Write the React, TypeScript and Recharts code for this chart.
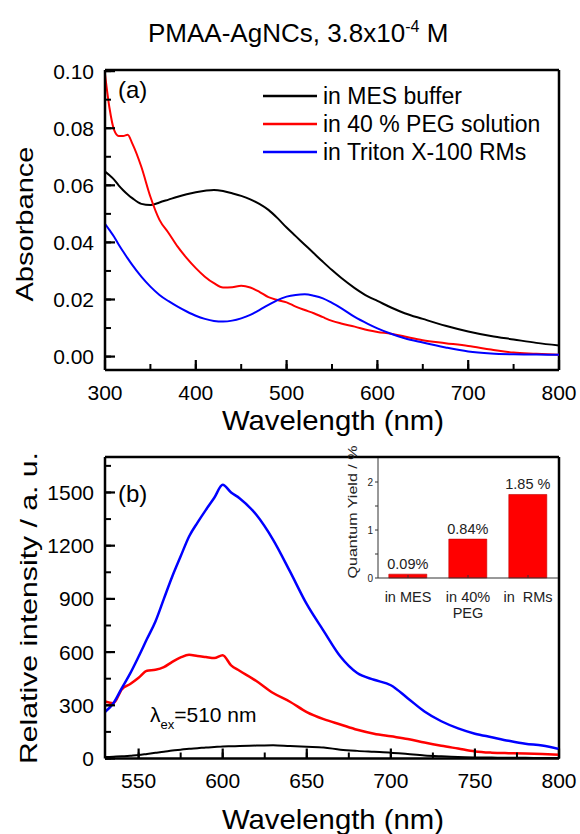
import React from 'react';
import {
  LineChart,
  Line,
  XAxis,
  YAxis,
  ReferenceLine,
  Legend,
  BarChart,
  Bar,
  LabelList,
} from 'recharts';

const FONT = '"Liberation Sans", Arial, Helvetica, sans-serif';

// ---------- Panel (a): absorbance ----------
const absWavelengths = [300, 305, 310, 315, 320, 325, 330, 340, 350, 360, 370, 380, 390, 400, 410, 420, 430, 440, 450, 460, 470, 480, 490, 500, 510, 520, 530, 540, 550, 560, 575, 590, 600, 615, 630, 650, 675, 700, 725, 750, 775, 800];
const absMES = [0.0648, 0.0635, 0.062, 0.060, 0.0583, 0.0568, 0.0555, 0.0535, 0.0531, 0.054, 0.055, 0.056, 0.0569, 0.0576, 0.0581, 0.0584, 0.058, 0.0572, 0.0563, 0.0551, 0.0535, 0.0514, 0.0485, 0.0452, 0.0422, 0.0392, 0.0362, 0.0332, 0.0303, 0.0276, 0.024, 0.021, 0.0195, 0.0172, 0.0152, 0.0132, 0.0108, 0.0088, 0.0072, 0.006, 0.0048, 0.0039];
const absPEG = [0.099, 0.087, 0.0794, 0.0773, 0.0773, 0.0777, 0.0747, 0.0665, 0.056, 0.0479, 0.0433, 0.0385, 0.0345, 0.031, 0.028, 0.0257, 0.0242, 0.0243, 0.0248, 0.0242, 0.0227, 0.0208, 0.0198, 0.019, 0.0175, 0.0163, 0.0152, 0.0138, 0.0125, 0.0116, 0.0105, 0.0092, 0.0086, 0.008, 0.007, 0.0057, 0.0047, 0.0037, 0.0025, 0.0014, 0.001, 0.0006];
const absRMs = [0.0465, 0.0443, 0.042, 0.0393, 0.0368, 0.0344, 0.0321, 0.028, 0.0245, 0.0216, 0.0194, 0.0175, 0.0158, 0.0143, 0.0132, 0.0125, 0.0123, 0.0126, 0.0134, 0.0146, 0.0163, 0.0181, 0.0198, 0.021, 0.0216, 0.0218, 0.0213, 0.0204, 0.0188, 0.017, 0.0139, 0.0114, 0.0099, 0.008, 0.0064, 0.0049, 0.0032, 0.0018, 0.0011, 0.0008, 0.0007, 0.0006];
const absXTicks = [300, 350, 400, 450, 500, 550, 600, 650, 700, 750, 800];
const absXMajor = [300, 400, 500, 600, 700, 800];
const absYTicks = [0, 0.01, 0.02, 0.03, 0.04, 0.05, 0.06, 0.07, 0.08, 0.09, 0.1];
const absYMajor = [0, 0.02, 0.04, 0.06, 0.08, 0.1];
const absXDomain = [300, 800];
const absYDomain = [-0.0047, 0.1004];

// ---------- Panel (b): emission ----------
const flWavelengths = [530, 535, 540, 545, 550, 555, 560, 565, 570, 575, 580, 585, 590, 595, 600, 605, 610, 620, 630, 640, 650, 660, 670, 680, 690, 700, 710, 720, 730, 740, 750, 760, 770, 780, 790, 800];
const flMES = [8, 10, 12, 16, 20, 26, 32, 38, 45, 50, 55, 58, 62, 65, 68, 69, 70, 73, 75, 70, 66, 62, 50, 43, 38, 33, 25, 17, 12, 8, 6, 5, 4, 4, 3, 3];
const flPEG = [321, 312, 390, 420, 455, 495, 500, 515, 545, 570, 585, 578, 572, 566, 582, 525, 495, 437, 369, 320, 262, 222, 192, 162, 140, 125, 110, 90, 72, 56, 40, 33, 30, 28, 25, 21];
const flRMs = [262, 312, 397, 480, 575, 675, 773, 900, 1026, 1140, 1252, 1330, 1402, 1470, 1543, 1500, 1468, 1374, 1233, 1055, 870, 720, 575, 482, 444, 413, 340, 265, 210, 170, 140, 120, 100, 83, 73, 53];
const flXTicks = [550, 575, 600, 625, 650, 675, 700, 725, 750, 775, 800];
const flXMajor = [550, 600, 650, 700, 750, 800];
const flYTicks = [0, 150, 300, 450, 600, 750, 900, 1050, 1200, 1350, 1500, 1650];
const flYMajor = [0, 300, 600, 900, 1200, 1500];
const flXDomain = [530, 800];
const flYDomain = [0, 1700];

// ---------- Inset: quantum yield ----------
const qyCategories = ['in MES', 'in 40%|PEG', 'in  RMs'];
const qyValues = [0.08, 0.81, 1.74];
const qyLabels = ['0.09%', '0.84%', '1.85 %'];
const qyYTicks = [0, 0.5, 1, 1.5, 2];
const qyYDomain = [0, 2.5];

const seriesNames = ['in MES buffer', 'in 40 % PEG solution', 'in Triton X-100 RMs'];
const seriesColors = ['#000000', '#ff0000', '#0000ff'];

const absData = absWavelengths.map((wl, i) => ({ wl, mes: absMES[i], peg: absPEG[i], rms: absRMs[i] }));
const flData = flWavelengths.map((wl, i) => ({ wl, mes: flMES[i], peg: flPEG[i], rms: flRMs[i] }));
const qyData = qyCategories.map((cat, i) => ({ cat, qy: qyValues[i], label: qyLabels[i] }));

// built-in tick lines are MINOR (inward, 6 px); majors get an extra longer line here
const MINOR = 6;
const MAJOR = 10;

const makeXTick = (majors: number[], fmt: (v: number) => string, labelDy: number) => (props: any) => {
  const { x, y, payload } = props;
  const axisY = y + MINOR;
  const v = payload.value;
  const major = majors.includes(v);
  return (
    <g>
      {major && <line x1={x} y1={axisY} x2={x} y2={axisY - MAJOR} stroke="#000" strokeWidth={2.2} />}
      {major && (
        <text x={x} y={axisY + labelDy} textAnchor="middle" fontSize={21} fontFamily={FONT} fill="#000">
          {fmt(v)}
        </text>
      )}
    </g>
  );
};

const makeYTick = (majors: number[], fmt: (v: number) => string) => (props: any) => {
  const { x, y, payload } = props;
  const axisX = x - MINOR;
  const v = payload.value;
  const major = majors.includes(v);
  return (
    <g>
      {major && <line x1={axisX} y1={y} x2={axisX + MAJOR} y2={y} stroke="#000" strokeWidth={2.2} />}
      {major && (
        <text x={axisX - 11} y={y + 7.5} textAnchor="end" fontSize={21} fontFamily={FONT} fill="#000">
          {fmt(v)}
        </text>
      )}
    </g>
  );
};

const LegendContent = () => (
  <div style={{ fontFamily: FONT }}>
    {seriesNames.map((name, i) => (
      <div key={name} style={{ display: 'flex', alignItems: 'center', height: 28 }}>
        <svg width={54} height={4} style={{ display: 'block' }}>
          <line x1={0} y1={2} x2={54} y2={2} stroke={seriesColors[i]} strokeWidth={2.5} />
        </svg>
        <span style={{ marginLeft: 6, fontSize: 23, lineHeight: '28px', color: '#000', whiteSpace: 'nowrap' }}>{name}</span>
      </div>
    ))}
  </div>
);

const InsetXTick = (props: any) => {
  const { x, y, payload } = props;
  const lines = String(payload.value).split('|');
  return (
    <g>
      <line x1={x} y1={y} x2={x} y2={y - 3} stroke="#333" strokeWidth={1} />
      {lines.map((t, i) => (
        <text
          key={i}
          x={x}
          y={y + 24 + i * 16}
          textAnchor="middle"
          fontSize={14.5}
          fontFamily={FONT}
          fill="#222"
          style={{ whiteSpace: 'pre' }}
        >
          {t}
        </text>
      ))}
    </g>
  );
};

const BarValueLabel = (props: any) => {
  const { x, y, width, value } = props;
  return (
    <text x={x + width / 2} y={y - 5} textAnchor="middle" fontSize={14.5} fontFamily={FONT} fill="#222" style={{ whiteSpace: 'pre' }}>
      {value}
    </text>
  );
};

const axisLine = { stroke: '#000', strokeWidth: 2.5 };
const tickLineStyle = { stroke: '#000', strokeWidth: 2 };

export default function App() {
  return (
    <div style={{ position: 'absolute', left: 0, top: 0, width: 580, height: 834, background: '#fff', fontFamily: FONT, overflow: 'hidden' }}>
      {/* Panel (a) */}
      <div style={{ position: 'absolute', left: 0, top: 0 }}>
        <LineChart width={580} height={440} data={absData} margin={{ top: 70, right: 21, bottom: 40, left: 45 }}>
          <XAxis
            dataKey="wl"
            type="number"
            domain={absXDomain}
            allowDataOverflow
            ticks={absXTicks}
            interval={0}
            height={30}
            tickSize={-MINOR}
            tickMargin={0}
            tickLine={tickLineStyle}
            axisLine={axisLine}
            tick={makeXTick(absXMajor, (v) => String(v), 29.5)}
          />
          <YAxis
            type="number"
            domain={absYDomain}
            allowDataOverflow
            ticks={absYTicks}
            interval={0}
            width={60}
            tickSize={-MINOR}
            tickMargin={0}
            tickLine={tickLineStyle}
            axisLine={axisLine}
            tick={makeYTick(absYMajor, (v) => v.toFixed(2))}
          />
          <ReferenceLine y={absYDomain[1]} stroke="#000" strokeWidth={2.5} />
          <ReferenceLine x={absXDomain[1]} stroke="#000" strokeWidth={2.5} />
          <Line dataKey="mes" name={seriesNames[0]} stroke={seriesColors[0]} strokeWidth={2} dot={false} type="monotone" isAnimationActive={false} />
          <Line dataKey="peg" name={seriesNames[1]} stroke={seriesColors[1]} strokeWidth={2} dot={false} type="monotone" isAnimationActive={false} />
          <Line dataKey="rms" name={seriesNames[2]} stroke={seriesColors[2]} strokeWidth={2} dot={false} type="monotone" isAnimationActive={false} />
          <Legend
            layout="vertical"
            align="center"
            verticalAlign="middle"
            wrapperStyle={{ position: 'absolute', left: 263, top: 82, width: 'auto', height: 'auto' }}
            content={LegendContent}
          />
        </LineChart>
      </div>

      {/* Panel (b) */}
      <div style={{ position: 'absolute', left: 0, top: 440 }}>
        <LineChart width={580} height={394} data={flData} margin={{ top: 17, right: 21, bottom: 45.5, left: 45 }}>
          <XAxis
            dataKey="wl"
            type="number"
            domain={flXDomain}
            allowDataOverflow
            ticks={flXTicks}
            interval={0}
            height={30}
            tickSize={-MINOR}
            tickMargin={0}
            tickLine={tickLineStyle}
            axisLine={axisLine}
            tick={makeXTick(flXMajor, (v) => String(v), 29)}
          />
          <YAxis
            type="number"
            domain={flYDomain}
            allowDataOverflow
            ticks={flYTicks}
            interval={0}
            width={60}
            tickSize={-MINOR}
            tickMargin={0}
            tickLine={tickLineStyle}
            axisLine={axisLine}
            tick={makeYTick(flYMajor, (v) => String(v))}
          />
          <ReferenceLine y={flYDomain[1]} stroke="#000" strokeWidth={2.5} />
          <ReferenceLine x={flXDomain[1]} stroke="#000" strokeWidth={2.5} />
          <Line dataKey="mes" name={seriesNames[0]} stroke={seriesColors[0]} strokeWidth={2} dot={false} type="monotone" isAnimationActive={false} />
          <Line dataKey="peg" name={seriesNames[1]} stroke={seriesColors[1]} strokeWidth={2.5} dot={false} type="monotone" isAnimationActive={false} />
          <Line dataKey="rms" name={seriesNames[2]} stroke={seriesColors[2]} strokeWidth={2.5} dot={false} type="monotone" isAnimationActive={false} />
        </LineChart>
      </div>

      {/* Inset */}
      <div style={{ position: 'absolute', left: 340, top: 450 }}>
        <BarChart width={220} height={180} data={qyData} margin={{ top: 8, right: 2, bottom: 12, left: 18 }} barCategoryGap="18%">
          <XAxis
            dataKey="cat"
            type="category"
            height={40}
            interval={0}
            tickSize={0}
            tickMargin={0}
            tickLine={false}
            axisLine={{ stroke: '#333', strokeWidth: 1 }}
            tick={InsetXTick}
          />
          <YAxis
            type="number"
            domain={qyYDomain}
            ticks={qyYTicks}
            interval={0}
            width={20}
            tickSize={3}
            tickMargin={2}
            axisLine={{ stroke: '#333', strokeWidth: 1 }}
            tickLine={{ stroke: '#333', strokeWidth: 1 }}
            tick={{ fontSize: 10, fill: '#222', fontFamily: FONT }}
            tickFormatter={(v: number) => (Number.isInteger(v) ? String(v) : '')}
          />
          <Bar dataKey="qy" fill="#ff0000" stroke="#c00000" strokeWidth={0.6} isAnimationActive={false}>
            <LabelList dataKey="label" content={BarValueLabel} />
          </Bar>
        </BarChart>
      </div>

      {/* Text annotations */}
      <svg width={580} height={834} style={{ position: 'absolute', left: 0, top: 0, pointerEvents: 'none' }} fontFamily={FONT}>
        <text x={148} y={42} fontSize={26} fill="#000">
          PMAA-AgNCs, 3.8x10
          <tspan fontSize={16} dy={-10}>-4</tspan>
          <tspan fontSize={26} dy={10}> M</tspan>
        </text>
        <text x={118} y={98} fontSize={24} fill="#000">(a)</text>
        <text x={118} y={502} fontSize={24} fill="#000">(b)</text>
        <text x={150} y={722} fontSize={21} fill="#000">
          λ<tspan fontSize={13} dy={7}>ex</tspan>
          <tspan fontSize={21} dy={-7}>=510 nm</tspan>
        </text>
        <text x={333} y={430} fontSize={28} textAnchor="middle" fill="#000" textLength={222} lengthAdjust="spacingAndGlyphs">
          Wavelength (nm)
        </text>
        <text x={333} y={829} fontSize={28} textAnchor="middle" fill="#000" textLength={222} lengthAdjust="spacingAndGlyphs">
          Wavelength (nm)
        </text>
        <text
          x={33}
          y={224}
          fontSize={24}
          textAnchor="middle"
          fill="#000"
          transform="rotate(-90 33 224)"
          textLength={155}
          lengthAdjust="spacingAndGlyphs"
        >
          Absorbance
        </text>
        <text
          x={37}
          y={608}
          fontSize={24}
          textAnchor="middle"
          fill="#000"
          transform="rotate(-90 37 608)"
          textLength={312}
          lengthAdjust="spacingAndGlyphs"
        >
          Relative intensity / a. u.
        </text>
        <text
          x={357}
          y={512}
          fontSize={12.5}
          textAnchor="middle"
          fill="#222"
          transform="rotate(-90 357 512)"
          textLength={133}
          lengthAdjust="spacingAndGlyphs"
        >
          Quantum Yield / %
        </text>
      </svg>
    </div>
  );
}
